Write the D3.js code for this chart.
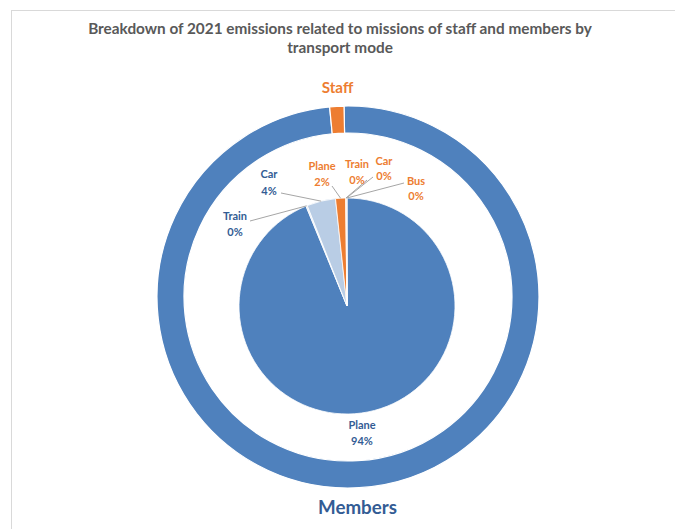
<!DOCTYPE html>
<html>
<head>
<meta charset="utf-8">
<script src="https://cdn.jsdelivr.net/npm/d3@7"></script>
<style>
  html, body { margin: 0; padding: 0; background: #ffffff; }
  svg { display: block; }
  text { font-family: Lato, "Open Sans", sans-serif; font-weight: bold; }
</style>
</head>
<body>
<svg id="chart" width="675" height="529"></svg>
<script>
// ---------- data ----------
const titleLines = ["Breakdown of 2021 emissions related to missions of staff and members by", "transport mode"];
const groups = ["Members", "Staff"];
const ringValues = [98.8, 1.2];
const memberModes = ["Plane", "Train", "Car"];
const memberValues = [93.8, 0.2, 4.3];
const memberPct = ["94%", "0%", "4%"];
const staffModes = ["Plane", "Train", "Car", "Bus"];
const staffValues = [1.5, 0.1, 0.05, 0.05];
const staffPct = ["2%", "0%", "0%", "0%"];

// ---------- styles / layout ----------
const W = 675, H = 529;
const ringCenter = [348, 297];
const pieCenter = [347, 306];
const ringOuter = 191, ringInner = 164;
const pieR = 108;
const ringColors = { Members: "#4F81BD", Staff: "#ED7D31" };
const sliceColors = {
  "Members-Plane": "#4F81BD", "Members-Train": "#DCE6F2", "Members-Car": "#B9CDE5",
  "Staff-Plane": "#ED7D31", "Staff-Train": "#ED7D31", "Staff-Car": "#ED7D31", "Staff-Bus": "#ED7D31"
};
const textColors = { Members: "#335C94", Staff: "#ED7D31" };
const labelLayout = {
  "Members-Plane": { x: 362, y: [429, 445] },
  "Members-Train": { x: 235, y: [220, 236], from: [250, 221] },
  "Members-Car":   { x: 269, y: [178, 195], from: [281, 193] },
  "Staff-Plane":   { x: 322, y: [170, 186], from: [332, 186] },
  "Staff-Train":   { x: 357, y: [168, 184], from: [367, 180] },
  "Staff-Car":     { x: 384, y: [165, 180], from: [373, 177] },
  "Staff-Bus":     { x: 416, y: [185, 200], from: [404, 183] }
};

const svg = d3.select("#chart");
svg.append("rect").attr("width", W).attr("height", H).attr("fill", "#fff");

// frame
svg.append("line").attr("x1", 11).attr("x2", W).attr("y1", 10.5).attr("y2", 10.5)
  .attr("stroke", "#D9D9D9").attr("stroke-width", 1);
svg.append("line").attr("x1", 11.5).attr("x2", 11.5).attr("y1", 10).attr("y2", H)
  .attr("stroke", "#D9D9D9").attr("stroke-width", 1);

function fitWidth(sel, target) {
  const fs = parseFloat(sel.style("font-size"));
  const w = sel.node().getComputedTextLength();
  sel.style("font-size", (fs * target / w) + "px");
}

// title
const t1 = svg.append("text").attr("x", 340).attr("y", 34).attr("text-anchor", "middle")
  .attr("fill", "#595959").style("font-size", "14px").text(titleLines[0]);
fitWidth(t1, 504);
const tfs = t1.style("font-size");
svg.append("text").attr("x", 340).attr("y", 53).attr("text-anchor", "middle")
  .attr("fill", "#595959").style("font-size", tfs).text(titleLines[1]);

// ---------- outer ring ----------
const ringData = groups.map((g, i) => ({ name: g, value: ringValues[i] }));
const ringPie = d3.pie().sort(null).value(d => d.value)
  .startAngle(-1.2 * Math.PI / 180).endAngle(2 * Math.PI - 1.2 * Math.PI / 180);
const ringArc = d3.arc().innerRadius(ringInner).outerRadius(ringOuter);
const ringG = svg.append("g").attr("transform", `translate(${ringCenter})`);
ringG.selectAll("path").data(ringPie(ringData)).join("path")
  .attr("d", ringArc)
  .attr("fill", d => ringColors[d.data.name])
  .attr("stroke", "#fff").attr("stroke-width", 1.2);

// ring labels
const staffT = svg.append("text").attr("x", 337.5).attr("y", 93).attr("text-anchor", "middle")
  .attr("fill", textColors.Staff).style("font-size", "15px").text(groups[1]);
fitWidth(staffT, 31.5);
const memT = svg.append("text").attr("x", 357.5).attr("y", 514).attr("text-anchor", "middle")
  .attr("fill", textColors.Members).style("font-size", "19px").text(groups[0]);
fitWidth(memT, 79);

// ---------- inner pie ----------
const pieData = [];
memberModes.forEach((m, i) => pieData.push({ group: "Members", mode: m, value: memberValues[i], pct: memberPct[i] }));
staffModes.forEach((m, i) => pieData.push({ group: "Staff", mode: m, value: staffValues[i], pct: staffPct[i] }));

const pie = d3.pie().sort(null).value(d => d.value);
const arcs = pie(pieData);
const arc = d3.arc().innerRadius(0).outerRadius(pieR);
const edgeArc = d3.arc().innerRadius(pieR).outerRadius(pieR);

const pieG = svg.append("g").attr("transform", `translate(${pieCenter})`);
pieG.selectAll("path").data(arcs).join("path")
  .attr("d", arc)
  .attr("fill", d => sliceColors[d.data.group + "-" + d.data.mode])
  .attr("stroke", "#fff").attr("stroke-width", 0.8);

// leader lines
const labG = svg.append("g");
arcs.forEach(d => {
  const key = d.data.group + "-" + d.data.mode;
  const L = labelLayout[key];
  if (L.from) {
    const c = edgeArc.centroid(d);
    labG.append("line")
      .attr("x1", L.from[0]).attr("y1", L.from[1])
      .attr("x2", pieCenter[0] + c[0]).attr("y2", pieCenter[1] + c[1])
      .attr("stroke", "#A6A6A6").attr("stroke-width", 1);
  }
  labG.append("text").attr("x", L.x).attr("y", L.y[0]).attr("text-anchor", "middle")
    .attr("fill", textColors[d.data.group]).style("font-size", "11px").text(d.data.mode);
  labG.append("text").attr("x", L.x).attr("y", L.y[1]).attr("text-anchor", "middle")
    .attr("fill", textColors[d.data.group]).style("font-size", "11px").text(d.data.pct);
});
</script>
</body>
</html>
